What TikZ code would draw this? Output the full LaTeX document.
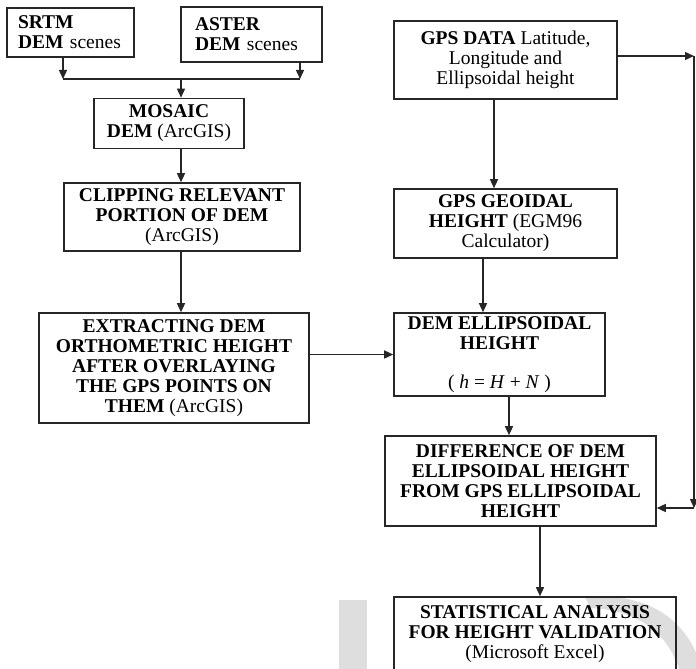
\documentclass[tikz,border=0pt]{standalone}
\usepackage{fontspec}
\setmainfont{Liberation Serif}
\usetikzlibrary{arrows.meta}
\begin{document}
\begin{tikzpicture}[x=1pt,y=-1pt,
  box/.style={draw=black!85, line width=1.6pt, rectangle, inner sep=0pt, align=center,
              font=\fontsize{19.5}{20}\selectfont},
  lbox/.style={box, align=left},
  arr/.style={draw=black!85, line width=1.4pt, -{Triangle[length=9pt,width=8pt]}},
  ln/.style={draw=black!85, line width=1.4pt},
  wm/.style={fill=black!13, draw=none}]
\useasboundingbox (0,0) rectangle (696,669);
\clip (0,0) rectangle (696,669);
% watermark
\fill[wm] (339,600) rectangle (367,680);
\fill[wm] (585,597) .. controls (650,592) and (692,620) .. (705,680) -- (682,680)
   .. controls (672,635) and (640,610) .. (590,608) -- cycle;
% boxes
\node[lbox, minimum width=127pt, minimum height=49pt, text width=105pt] (srtm) at (70.5,32.5)
  {\textbf{SRTM}\\\textbf{DEM} scenes};
\node[lbox, minimum width=141pt, minimum height=55pt, text width=113pt] (aster) at (251.5,34.5)
  {\textbf{ASTER}\\\textbf{DEM} scenes};
\node[box, minimum width=150pt, minimum height=50pt] (mosaic) at (169,123.5)
  {\textbf{MOSAIC}\\\textbf{DEM} (ArcGIS)};
\node[box, minimum width=236pt, minimum height=68pt] (clip) at (182,217)
  {\textbf{CLIPPING RELEVANT}\\\textbf{PORTION OF DEM}\\(ArcGIS)};
\node[box, minimum width=270pt, minimum height=110pt] (extract) at (174,368)
  {\textbf{EXTRACTING DEM}\\\textbf{ORTHOMETRIC HEIGHT}\\\textbf{AFTER OVERLAYING}\\\textbf{THE GPS POINTS ON}\\\textbf{THEM} (ArcGIS)};
\node[box, minimum width=223pt, minimum height=78pt] (gps) at (505.5,60)
  {\textbf{GPS DATA} Latitude,\\Longitude and\\Ellipsoidal height};
\node[box, minimum width=223pt, minimum height=69pt] (geoid) at (505.5,223.5)
  {\textbf{GPS GEOIDAL}\\\textbf{HEIGHT} (EGM96\\Calculator)};
\node[box, minimum width=211pt, minimum height=83pt] (demell) at (499.5,354.5)
  {\textbf{DEM ELLIPSOIDAL}\\\textbf{HEIGHT}\\[19pt]( \textit{h} = \textit{H} + \textit{N} )};
\node[box, minimum width=271pt, minimum height=90pt] (diff) at (520.5,481)
  {\textbf{DIFFERENCE OF DEM}\\\textbf{ELLIPSOIDAL HEIGHT}\\\textbf{FROM GPS ELLIPSOIDAL}\\\textbf{HEIGHT}};
\node[box, minimum width=282pt, minimum height=74pt] (stat) at (535,634)
  {\textbf{STATISTICAL ANALYSIS}\\\textbf{FOR HEIGHT VALIDATION}\\(Microsoft Excel)};
% connectors
\coordinate (jl) at (63,79);
\coordinate (jr) at (300,79);
\coordinate (jc) at (181,79);
\draw[arr] (srtm.south -| jl) -- (jl);
\draw[arr] (aster.south -| jr) -- (jr);
\draw[ln] (jl) -- (jr);
\draw[arr] (jc) -- (mosaic.north -| jc);
\draw[arr] (mosaic.south -| jc) -- (clip.north -| jc);
\draw[arr] (clip.south -| jc) -- (extract.north -| jc);
\draw[arr] (extract.east |- demell.west) -- (demell.west);
\coordinate (xg) at (494,0);
\coordinate (xd) at (483,0);
\coordinate (xe) at (509,0);
\coordinate (xs) at (540,0);
\draw[arr] (gps.south -| xg) -- (geoid.north -| xg);
\draw[arr] (geoid.south -| xd) -- (demell.north -| xd);
\draw[arr] (demell.south -| xe) -- (diff.north -| xe);
\draw[arr] (diff.south -| xs) -- (stat.north -| xs);
\coordinate (rt) at (694,56);
\coordinate (rb) at (694,508);
\draw[arr] (gps.east |- rt) -- (rt);
\draw[arr] (rt) -- (rb);
\draw[arr] (rb) -- (diff.east |- rb);
\end{tikzpicture}
\end{document}
